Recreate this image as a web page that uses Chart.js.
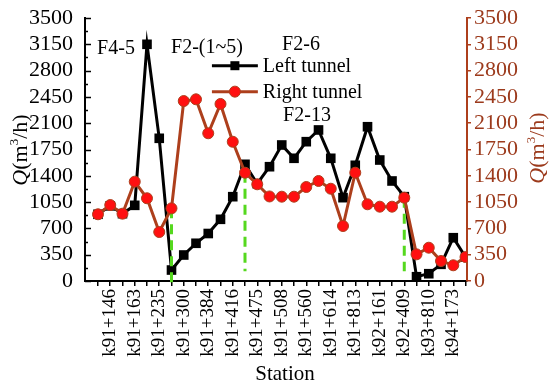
<!DOCTYPE html>
<html>
<head>
<meta charset="utf-8">
<script src="https://cdn.jsdelivr.net/npm/chart.js@4.4.1/dist/chart.umd.min.js"></script>
<style>
html,body{margin:0;padding:0;background:#fff;}
#wrap{width:550px;height:387px;position:relative;}
</style>
</head>
<body>
<div id="wrap"><canvas id="c" width="550" height="387"></canvas></div>
<script>
// ---- data ----
const stationLabels = ['k91+146','k91+163','k91+235','k91+300','k91+384','k91+416','k91+475','k91+508','k91+560','k91+614','k91+813','k92+161','k92+409','k93+810','k94+173'];
const leftTunnel  = [888,1000,896,1007,3150,1899,146,346,502,632,821,1122,1553,1295,1521,1810,1633,1854,2010,1633,1109,1540,2053,1610,1331,1122,57,97,222,576,319];
const rightTunnel = [888,1011,896,1322,1101,652,967,2395,2418,1966,2356,1853,1441,1287,1125,1122,1122,1251,1331,1228,732,1441,1021,989,989,1109,355,443,266,209,319];
const yTicks = [0,350,700,1050,1400,1750,2100,2450,2800,3150,3500];
const faultNames = ['F4-5','F2-(1~5)','F2-6','F2-13'];
const dashIdx = [6,12,25];
const dashTop = [967,1441,1109];
const dashBottom = [-80,130,130];

const SERIF = "'Liberation Serif','Times New Roman',serif";
const BROWN = '#ad3f1c';
const RED = '#ff1010';
const GREEN = '#55d81e';

function labelFor(i){ return (i % 2 === 1) ? stationLabels[(i-1)/2] || '' : ''; }

const datasets = [
  {label:'Right tunnel', data: rightTunnel.map((v,i)=>({x:i,y:v})), order:0,
   borderColor:BROWN, borderWidth:3, pointStyle:'circle', pointRadius:5.5,
   pointBackgroundColor:RED, pointBorderColor:BROWN, pointBorderWidth:1, tension:0}
];
dashIdx.forEach((ix,k)=>{
  datasets.push({label:'dash'+k, data:[{x:ix,y:dashTop[k]},{x:ix,y:dashBottom[k]}], order:1,
    borderColor:GREEN, borderWidth:3, borderDash:[10,6], pointRadius:0, clip:false});
});
datasets.push({label:'Left tunnel', data: leftTunnel.map((v,i)=>({x:i,y:v})), order:2,
   borderColor:'#000', borderWidth:3, pointStyle:'rect', pointRadius:6.8,
   pointBackgroundColor:'#000', pointBorderColor:'#000', pointBorderWidth:0, tension:0});

function drawQ(ctx, cx, cy, color){
  ctx.save();
  ctx.translate(cx, cy);
  ctx.rotate(-Math.PI/2);
  ctx.fillStyle = color;
  ctx.textAlign = 'left';
  ctx.textBaseline = 'alphabetic';
  const parts = [
    {t:'Q', f:'italic 22px '+SERIF, dy:0},
    {t:'(m', f:'22px '+SERIF, dy:0},
    {t:'3', f:'13px '+SERIF, dy:-9},
    {t:'/h)', f:'22px '+SERIF, dy:0}
  ];
  let w = 0;
  parts.forEach(p=>{ctx.font=p.f; p.w=ctx.measureText(p.t).width; w+=p.w;});
  let x = -w/2;
  parts.forEach(p=>{ctx.font=p.f; ctx.fillText(p.t, x, 7+p.dy); x+=p.w;});
  ctx.restore();
}

const decor = {
  id:'decor',
  afterDraw(chart){
    const ctx = chart.ctx, xs = chart.scales.x, ys = chart.scales.y;
    const ca = chart.chartArea;
    ctx.save();
    // inward ticks on left axis
    ctx.strokeStyle = '#000'; ctx.lineWidth = 1.5;
    for (let v = 0; v <= 3500; v += 175){
      const py = Math.round(ys.getPixelForValue(v)) + 0.5;
      const len = (v % 350 === 0) ? 6 : 3;
      ctx.beginPath(); ctx.moveTo(ca.left, py); ctx.lineTo(ca.left + len, py); ctx.stroke();
    }
    // fault annotations
    ctx.fillStyle = '#000';
    ctx.font = '20px ' + SERIF;
    ctx.textAlign = 'center'; ctx.textBaseline = 'middle';
    const ann = [[1.47,3088],[8.9,3101],[16.57,3141],[17.06,2196]];
    faultNames.forEach((t,k)=>{
      ctx.fillText(t, xs.getPixelForValue(ann[k][0]), ys.getPixelForValue(ann[k][1]));
    });
    // legend
    const lx0 = xs.getPixelForValue(9.3), lx1 = xs.getPixelForValue(13.05);
    const rows = [
      {name:'Left tunnel', y: ys.getPixelForValue(2865), color:'#000', rect:true},
      {name:'Right tunnel', y: ys.getPixelForValue(2520), color:BROWN, rect:false}
    ];
    rows.forEach(r=>{
      ctx.strokeStyle = r.color; ctx.lineWidth = 3;
      ctx.beginPath(); ctx.moveTo(lx0, r.y); ctx.lineTo(lx1, r.y); ctx.stroke();
      const mx = (lx0+lx1)/2;
      if (r.rect){ ctx.fillStyle='#000'; ctx.fillRect(mx-4.5, r.y-4.5, 9, 9); }
      else { ctx.beginPath(); ctx.arc(mx, r.y, 5.5, 0, Math.PI*2); ctx.fillStyle=RED; ctx.fill(); ctx.strokeStyle=BROWN; ctx.lineWidth=1; ctx.stroke(); }
      ctx.fillStyle = '#000'; ctx.textAlign='left'; ctx.textBaseline='middle';
      ctx.font = '20px ' + SERIF;
      ctx.fillText(r.name, lx1 + 5, r.y + 1);
    });
    // axis titles
    ctx.textAlign='center'; ctx.textBaseline='alphabetic';
    ctx.font = '21px ' + SERIF; ctx.fillStyle = '#000';
    ctx.fillText('Station', (ca.left+ca.right)/2 + 9, 380);
    drawQ(ctx, 20, 150, '#000');
    drawQ(ctx, 537, 148, '#9c3a1c');
    ctx.restore();
  }
};

new Chart(document.getElementById('c'), {
  type:'line',
  data:{datasets},
  options:{
    responsive:false, animation:false, devicePixelRatio:1,
    layout:{padding:{top:18, left:0, right:0, bottom:0}},
    plugins:{legend:{display:false}, tooltip:{enabled:false}},
    scales:{
      x:{type:'linear', min:-1.06, max:30.12,
        afterBuildTicks(s){ s.ticks = Array.from({length:31},(_,i)=>({value:i})); },
        afterFit(s){ s.height = 106; },
        border:{color:'#000', width:2},
        grid:{drawOnChartArea:false, drawTicks:true, tickLength:5, color:'#000', lineWidth:1.5},
        ticks:{autoSkip:false, maxRotation:90, minRotation:90, padding:3, color:'#000',
          font:{family:SERIF, size:19}, callback:(v)=>labelFor(v)}
      },
      y:{position:'left', min:0, max:3500,
        afterBuildTicks(s){ s.ticks = yTicks.map(v=>({value:v})); },
        afterFit(s){ s.width = 85; },
        border:{color:'#000', width:2},
        grid:{display:false},
        ticks:{autoSkip:false, padding:4, color:'#000', font:{family:SERIF, size:22}, callback:(v)=>String(v)}
      },
      y2:{position:'right', min:0, max:3500,
        afterBuildTicks(s){ s.ticks = yTicks.map(v=>({value:v})); },
        afterFit(s){ s.width = 83; },
        border:{color:BROWN, width:2},
        grid:{drawOnChartArea:false, drawTicks:true, tickLength:4, color:BROWN, lineWidth:1.5},
        ticks:{autoSkip:false, padding:3, color:'#9c3a1c', font:{family:SERIF, size:22}, callback:(v)=>String(v)}
      }
    }
  },
  plugins:[decor]
});
</script>
</body>
</html>
